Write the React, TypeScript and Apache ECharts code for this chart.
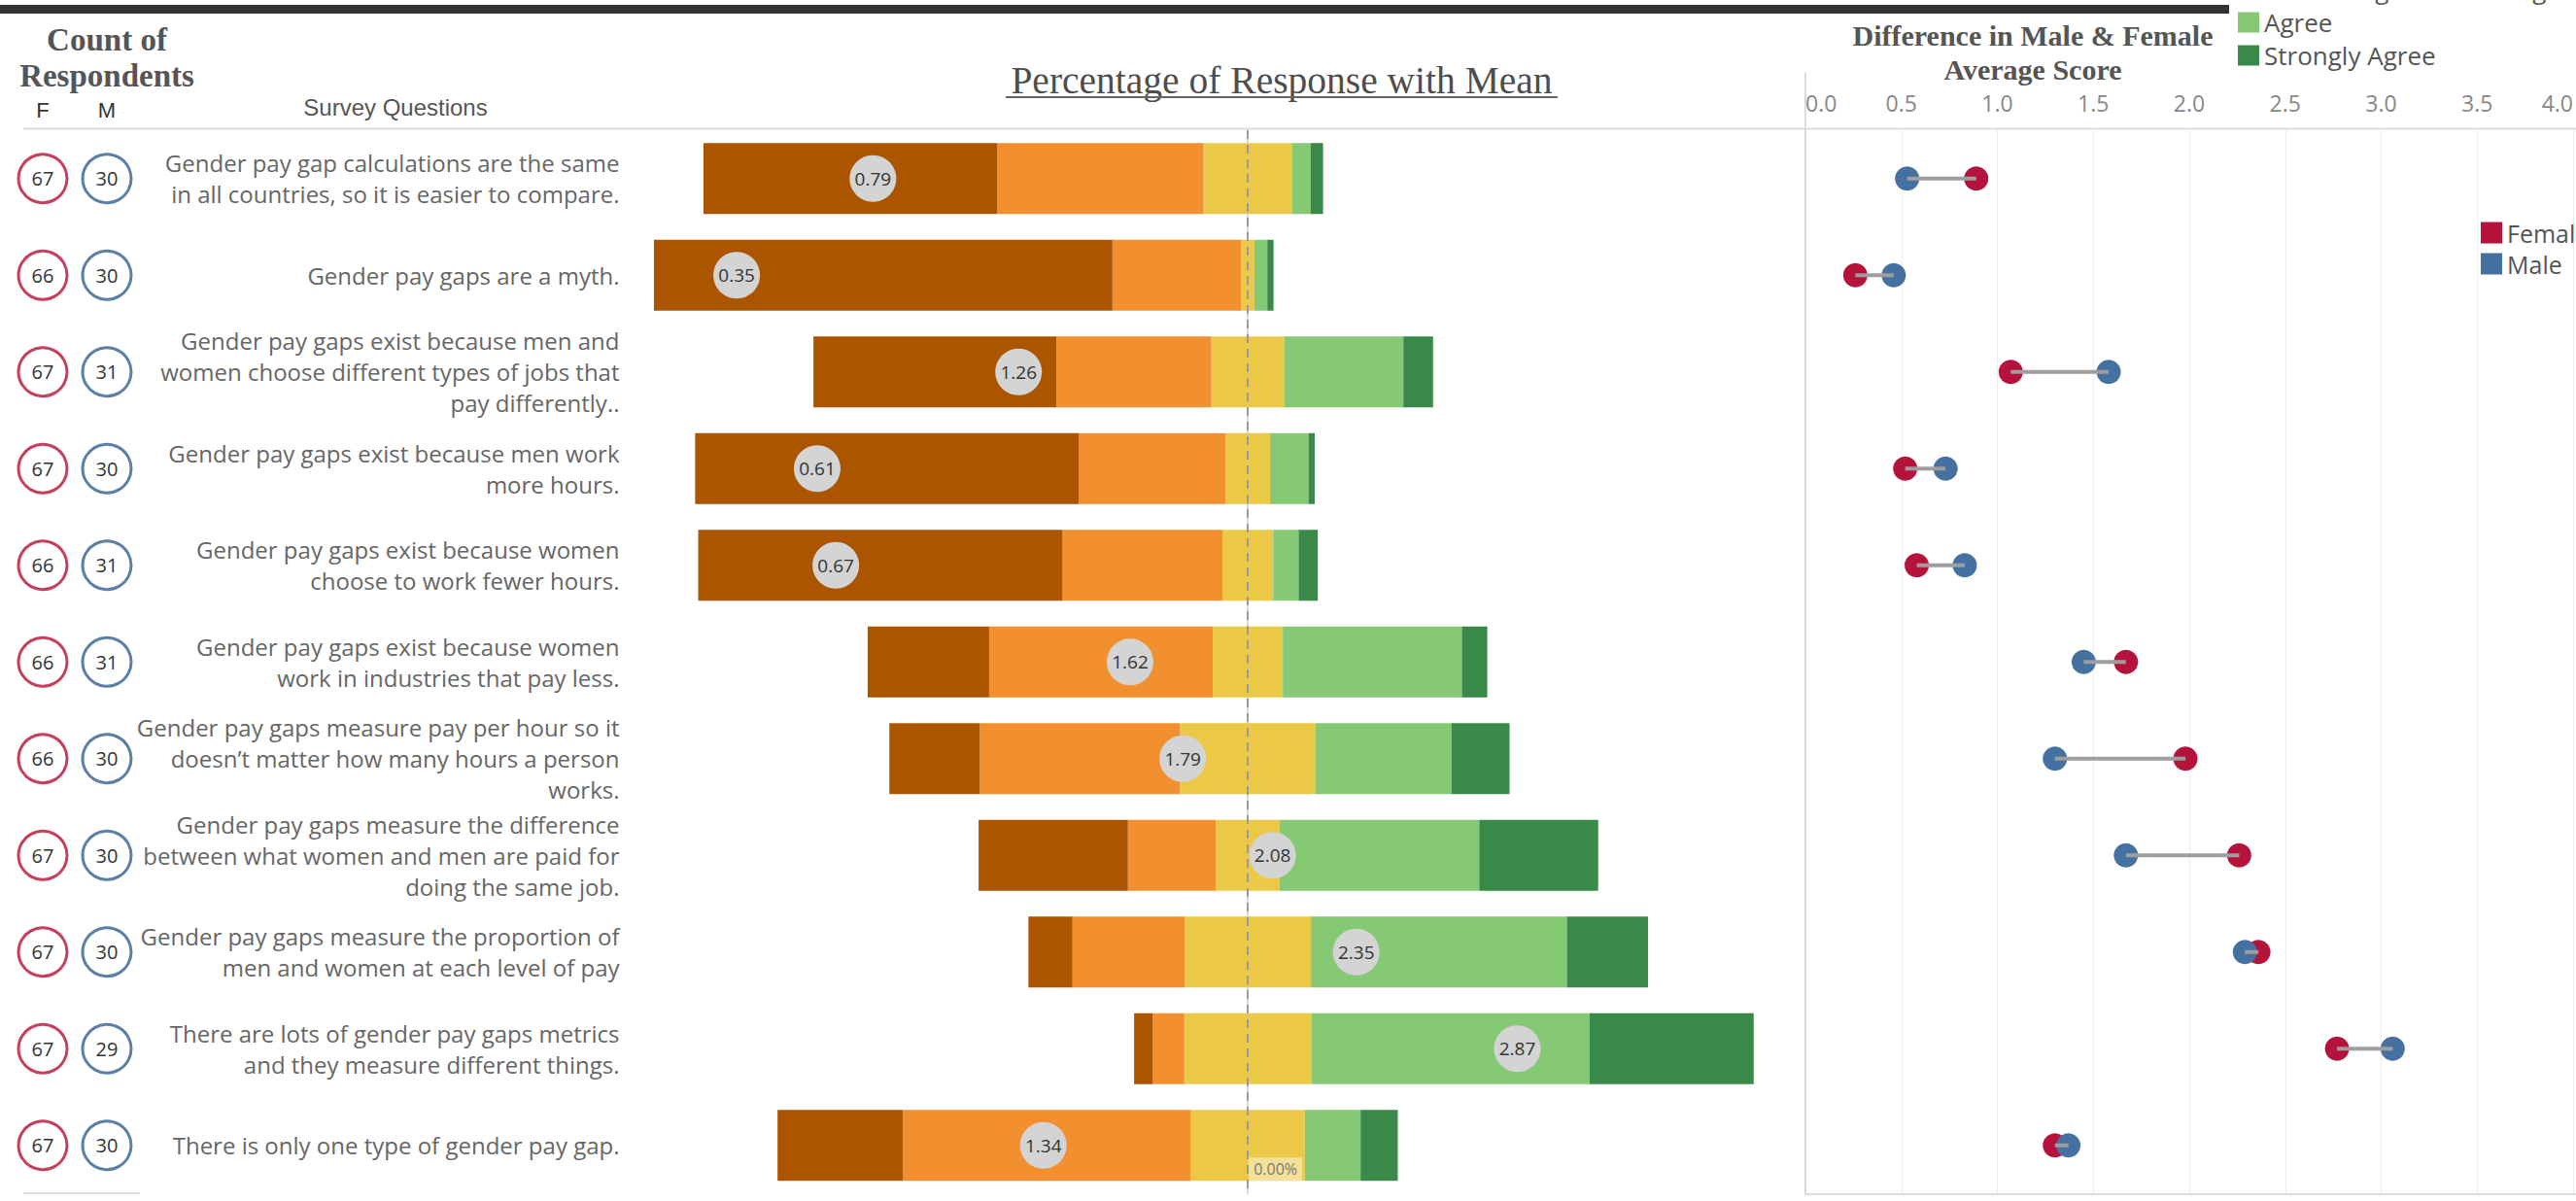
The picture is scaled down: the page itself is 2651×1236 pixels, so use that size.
import React, { useEffect, useRef } from 'react';
import * as echarts from 'echarts';

const questions = [
  'Gender pay gap calculations are the same\nin all countries, so it is easier to compare.',
  'Gender pay gaps are a myth.',
  'Gender pay gaps exist because men and\nwomen choose different types of jobs that\npay differently..',
  'Gender pay gaps exist because men work\nmore hours.',
  'Gender pay gaps exist because women\nchoose to work fewer hours.',
  'Gender pay gaps exist because women\nwork in industries that pay less.',
  'Gender pay gaps measure pay per hour so it\ndoesn\u2019t matter how many hours a person\nworks.',
  'Gender pay gaps measure the difference\nbetween what women and men are paid for\ndoing the same job.',
  'Gender pay gaps measure the proportion of\nmen and women at each level of pay',
  'There are lots of gender pay gaps metrics\nand they measure different things.',
  'There is only one type of gender pay gap.',
];

const countCols = ['F', 'M'];
const femaleCounts = [67, 66, 67, 67, 66, 66, 66, 67, 67, 67, 67];
const maleCounts = [30, 30, 31, 30, 31, 31, 30, 30, 30, 29, 30];

// percentage of responses
const stronglyDisagree = [47.4, 74.0, 39.2, 61.9, 58.8, 19.6, 14.6, 24.1, 7.1, 3.0, 20.2];
const disagree = [33.3, 20.8, 25.0, 23.7, 25.8, 36.1, 32.3, 14.2, 18.1, 5.1, 46.5];
const neither = [14.3, 2.1, 11.8, 7.2, 8.2, 11.3, 21.9, 10.3, 20.4, 20.5, 18.4];
const agree = [3.0, 2.1, 19.2, 6.2, 4.1, 28.9, 21.9, 32.2, 41.3, 44.9, 9.0];
const stronglyAgree = [2.0, 1.0, 4.8, 1.0, 3.1, 4.1, 9.4, 19.2, 13.1, 26.5, 6.0];
const meanScores = [0.79, 0.35, 1.26, 0.61, 0.67, 1.62, 1.79, 2.08, 2.35, 2.87, 1.34];

// average score by gender
const femaleScores = [0.89, 0.26, 1.07, 0.52, 0.58, 1.67, 1.98, 2.26, 2.36, 2.77, 1.3];
const maleScores = [0.53, 0.46, 1.58, 0.73, 0.83, 1.45, 1.3, 1.67, 2.29, 3.06, 1.37];

const likertNames = ['Strongly Disagree', 'Disagree', 'Neither Agree nor Disagree', 'Agree', 'Strongly Agree'];
const genderNames = ['Female', 'Male'];

const C_SD = '#ab5501';
const C_D = '#f28f2e';
const C_N = '#ebc845';
const C_A = '#86c975';
const C_SA = '#398a48';
const C_F = '#b5133b';
const C_M = '#4471a0';

const SANS = '"Open Sans", "Noto Sans", sans-serif';
const SERIF = '"Liberation Serif", "DejaVu Serif", serif';

export default function App() {
  const ref = useRef<HTMLDivElement>(null);
  useEffect(() => {
    const chart = echarts.init(ref.current as HTMLDivElement, undefined, { renderer: 'svg' });
    const barBase = { type: 'bar', xAxisIndex: 1, yAxisIndex: 1, stack: 'likert', barWidth: 73 };
    const option: any = {
      animation: false,
      backgroundColor: '#ffffff',
      textStyle: { fontFamily: SANS },
      grid: [
        { left: 11, top: 134, width: 132, height: 1094.5 },
        { left: 646.5, top: 134, width: 1211.5, height: 1094.5 },
        { left: 1858, top: 134, width: 803, height: 1094.5 },
      ],
      legend: [
        {
          orient: 'vertical', left: 2298, top: -97, itemWidth: 22, itemHeight: 21, itemGap: 8,
          icon: 'rect', selectedMode: false, data: likertNames,
          textStyle: { fontSize: 26, color: '#555', lineHeight: 21, fontFamily: SANS },
        },
        {
          orient: 'vertical', left: 2548, top: 222, itemWidth: 22, itemHeight: 22, itemGap: 7,
          icon: 'rect', selectedMode: false, data: genderNames,
          textStyle: { fontSize: 25, color: '#555', lineHeight: 22, fontFamily: SANS },
        },
      ],
      xAxis: [
        {
          gridIndex: 0, type: 'category', data: countCols, position: 'top',
          axisLine: { show: false }, axisTick: { show: false },
          axisLabel: { fontSize: 22, color: '#333', fontFamily: '"Liberation Sans", sans-serif', margin: 10 },
        },
        { gridIndex: 1, type: 'value', min: -100, max: 90, show: false },
        { gridIndex: 1, type: 'value', min: 0, max: 3.8, show: false },
        {
          gridIndex: 2, type: 'value', min: 0, max: 4, interval: 0.5, position: 'top',
          axisLine: { show: false }, axisTick: { show: false },
          splitLine: { show: true, lineStyle: { color: '#ececec', width: 1 } },
          axisLabel: {
            fontSize: 23, color: '#888', margin: 17, fontFamily: SANS,
            formatter: (v: number) => v.toFixed(1), alignMinLabel: 'left', alignMaxLabel: 'right',
          },
        },
      ],
      yAxis: [
        { gridIndex: 0, type: 'category', data: questions, inverse: true, show: false },
        {
          gridIndex: 1, type: 'category', data: questions, inverse: true,
          axisLine: { show: true, lineStyle: { color: '#d9d9d9', width: 2 } },
          axisTick: { show: false },
          axisLabel: { interval: 0, fontSize: 24, lineHeight: 32, color: '#666', align: 'right', margin: 9, fontFamily: SANS },
        },
        {
          gridIndex: 2, type: 'category', data: questions, inverse: true,
          axisLine: { show: true, lineStyle: { color: '#d9d9d9', width: 2 } },
          axisTick: { show: false }, axisLabel: { show: false },
        },
      ],
      series: [
        { ...barBase, name: likertNames[2], data: neither.map((v) => -v / 2), itemStyle: { color: C_N } },
        { ...barBase, name: likertNames[2], data: neither.map((v) => v / 2), itemStyle: { color: C_N } },
        { ...barBase, name: likertNames[1], data: disagree.map((v) => -v), itemStyle: { color: C_D } },
        { ...barBase, name: likertNames[0], data: stronglyDisagree.map((v) => -v), itemStyle: { color: C_SD } },
        { ...barBase, name: likertNames[3], data: agree, itemStyle: { color: C_A } },
        { ...barBase, name: likertNames[4], data: stronglyAgree, itemStyle: { color: C_SA } },
        {
          type: 'scatter', name: 'Mean', xAxisIndex: 2, yAxisIndex: 1, z: 5,
          data: meanScores.map((m, i) => [m, i]), symbolSize: 48,
          itemStyle: { color: '#d4d4d4', opacity: 1 },
          label: {
            show: true, position: 'inside', fontSize: 19, color: '#333', fontFamily: SANS,
            formatter: (p: any) => p.value[0].toFixed(2),
          },
          markLine: {
            silent: true, symbol: ['none', 'none'], label: { show: false },
            lineStyle: { color: '#9a9a9a', type: [9, 6], width: 2 },
            // mean axis 0..4 spans -100%..100%, so the 0% line sits at mean value 2
            data: [{ xAxis: 2 }],
          },
        },
        {
          type: 'scatter', name: 'F count', xAxisIndex: 0, yAxisIndex: 0,
          data: femaleCounts.map((c, i) => ['F', i, c]), symbolSize: 50,
          itemStyle: { color: '#ffffff', borderColor: '#c4405d', borderWidth: 3, opacity: 1 },
          label: { show: true, position: 'inside', fontSize: 20, color: '#333', formatter: (p: any) => String(p.value[2]) },
        },
        {
          type: 'scatter', name: 'M count', xAxisIndex: 0, yAxisIndex: 0,
          data: maleCounts.map((c, i) => ['M', i, c]), symbolSize: 50,
          itemStyle: { color: '#ffffff', borderColor: '#5c7fa6', borderWidth: 3, opacity: 1 },
          label: { show: true, position: 'inside', fontSize: 20, color: '#333', formatter: (p: any) => String(p.value[2]) },
        },
        {
          type: 'scatter', name: 'Female', xAxisIndex: 3, yAxisIndex: 2,
          data: femaleScores.map((v, i) => [v, i]), symbolSize: 25, itemStyle: { color: C_F, opacity: 1 },
        },
        {
          type: 'scatter', name: 'Male', xAxisIndex: 3, yAxisIndex: 2,
          data: maleScores.map((v, i) => [v, i]), symbolSize: 25, itemStyle: { color: C_M, opacity: 1 },
        },
        {
          type: 'custom', name: 'gap', xAxisIndex: 3, yAxisIndex: 2, z: 4,
          data: femaleScores.map((f, i) => [f, maleScores[i], i]),
          encode: { x: [0, 1], y: 2 },
          renderItem: (params: any, api: any) => {
            const p1 = api.coord([api.value(0), api.value(2)]);
            const p2 = api.coord([api.value(1), api.value(2)]);
            return {
              type: 'line',
              shape: { x1: p1[0], y1: p1[1], x2: p2[0], y2: p2[1] },
              style: { stroke: '#9e9e9e', lineWidth: 4 },
            };
          },
        },
      ],
    };
    chart.setOption(option);

    const pt = chart.convertToPixel({ xAxisIndex: 1, yAxisIndex: 1 } as any, [0, questions.length - 1]) as number[];
    const zeroX = pt[0];
    const lastBarBottom = pt[1] + 36.5;

    const lineStyle = { stroke: '#dcdcdc', lineWidth: 2 };
    chart.setOption({
      graphic: {
        elements: [
          { id: 'topbar', type: 'rect', shape: { x: 0, y: 5, width: 2294, height: 9 }, style: { fill: '#333333' } },
          { id: 'hdrline', type: 'line', shape: { x1: 24, y1: 132.5, x2: 2651, y2: 132.5 }, style: lineStyle },
          { id: 'leftbottom', type: 'line', shape: { x1: 24, y1: 1228, x2: 144, y2: 1228 }, style: lineStyle },
          { id: 'rightaxisup', type: 'line', shape: { x1: 1858, y1: 75, x2: 1858, y2: 134 }, style: lineStyle },
          { id: 'rightbottom', type: 'line', shape: { x1: 1858, y1: 1229, x2: 2651, y2: 1229 }, style: lineStyle },
          {
            id: 't1', type: 'text',
            style: { text: 'Count of', x: 110, y: 41, textAlign: 'center', textVerticalAlign: 'middle', font: 'bold 33px ' + SERIF, fill: '#555' },
          },
          {
            id: 't2', type: 'text',
            style: { text: 'Respondents', x: 110, y: 78, textAlign: 'center', textVerticalAlign: 'middle', font: 'bold 33px ' + SERIF, fill: '#555' },
          },
          {
            id: 't3', type: 'text',
            style: { text: 'Survey Questions', x: 407, y: 110, textAlign: 'center', textVerticalAlign: 'middle', font: '24px "Liberation Sans", sans-serif', fill: '#555' },
          },
          {
            id: 't4', type: 'text',
            style: { text: 'Percentage of Response with Mean', x: 1319, y: 83, textAlign: 'center', textVerticalAlign: 'middle', font: '39.5px ' + SERIF, fill: '#4d4d4d' },
          },
          { id: 'ul', type: 'line', shape: { x1: 1035, y1: 100, x2: 1603, y2: 100 }, style: { stroke: '#666', lineWidth: 2 } },
          {
            id: 't5', type: 'text',
            style: { text: 'Difference in Male & Female', x: 2092, y: 36, textAlign: 'center', textVerticalAlign: 'middle', font: 'bold 30px ' + SERIF, fill: '#555' },
          },
          {
            id: 't6', type: 'text',
            style: { text: 'Average Score', x: 2092, y: 71, textAlign: 'center', textVerticalAlign: 'middle', font: 'bold 30px ' + SERIF, fill: '#555' },
          },
          {
            id: 'zerolabel', type: 'text', z: 10,
            style: {
              text: '0.00%', x: zeroX + 1, y: lastBarBottom, textAlign: 'left', textVerticalAlign: 'bottom',
              font: '16px ' + SANS, fill: '#777', backgroundColor: 'rgba(255,255,255,0.45)', padding: [4, 5],
            },
          },
        ],
      },
    });
    return () => chart.dispose();
  }, []);
  return <div ref={ref} style={{ position: 'absolute', left: 0, top: 0, width: 2651, height: 1236 }} />;
}
